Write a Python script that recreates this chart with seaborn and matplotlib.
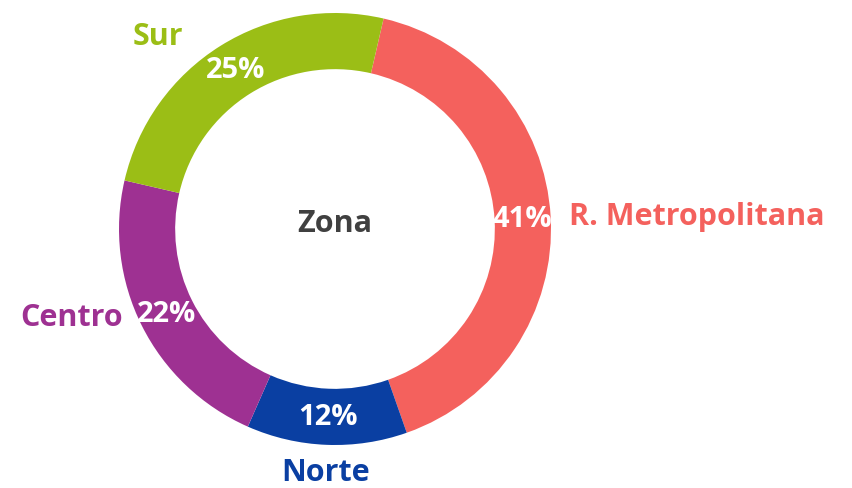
import numpy as np
import matplotlib
matplotlib.use('Agg')
import matplotlib.pyplot as plt
import seaborn as sns

# datos
zonas = ['R. Metropolitana', 'Norte', 'Centro', 'Sur']
porcentajes = [41, 12, 22, 25]
colores = ['#F4615D', '#0A3FA2', '#9E3192', '#9BBE16']

sns.set_theme(style='white')
plt.rcParams['font.family'] = ['Open Sans', 'DejaVu Sans']

fig = plt.figure(figsize=(8.53, 4.89), dpi=100)
ax = fig.add_axes([0, 0, 1, 1])

# centro y radio del anillo en pixeles
cx, cy, r = 335, 259, 216
fs = 22

wedges, _, pcts = ax.pie(
    porcentajes,
    colors=sns.color_palette(colores),
    startangle=77,
    counterclock=False,
    center=(cx, cy),
    radius=r,
    autopct='%d%%',
    pctdistance=0.87,
    wedgeprops=dict(width=r * 0.26, edgecolor='none'),
    textprops=dict(color='white', fontsize=fs - 1, fontweight='bold'),
)

# etiquetas externas (ángulo, distancia, alineación)
pos_etiquetas = {
    'R. Metropolitana': (3.2, 1.085, 'left'),
    'Norte': (-92.2, 1.125, 'center'),
    'Centro': (-157.5, 1.065, 'right'),
    'Sur': (132.5, 1.215, 'center'),
}
for zona, color in zip(zonas, colores):
    ang, dist, ha = pos_etiquetas[zona]
    x = cx + r * dist * np.cos(np.radians(ang))
    y = cy + r * dist * np.sin(np.radians(ang))
    ax.text(x, y, zona, color=color, fontsize=fs, fontweight='bold',
            ha=ha, va='center')

ax.text(cx, cy + 6, 'Zona', color='#404040', fontsize=fs, fontweight='bold',
        ha='center', va='center')

ax.set_xlim(0, 853)
ax.set_ylim(0, 489)
ax.set_aspect('equal')
ax.axis('off')

fig.savefig('out.png', dpi=100)
